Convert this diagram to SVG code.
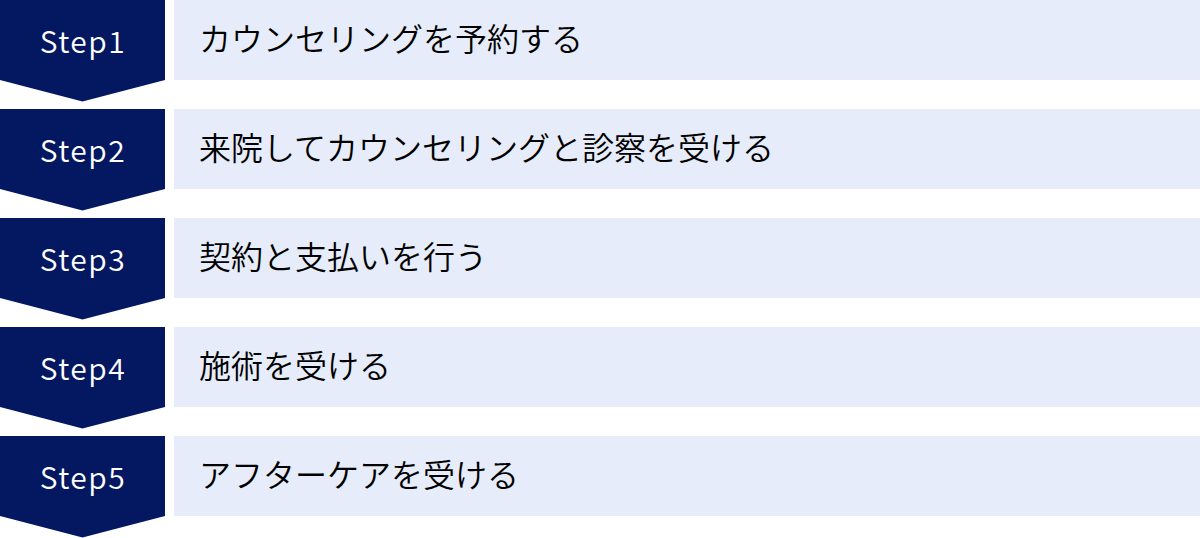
<svg xmlns="http://www.w3.org/2000/svg" width="1200" height="538" viewBox="0 0 1200 538">
<style>
.badge{fill:#041862}
.box{fill:#E6ECF9}
.step{font-family:"Noto Sans CJK JP","Noto Sans",sans-serif;font-size:30px;font-weight:350;fill:#FFFFFF;text-anchor:middle;letter-spacing:1.5px}
.label{font-family:"Noto Sans CJK JP",sans-serif;font-size:32px;font-weight:350;fill:#000000}
</style>
<defs>
<polygon id="chev" points="0,0 165,0 165,80 82.5,101.5 0,80"/>
</defs>
<g id="connectors"></g>
<g id="step1">
<use href="#chev" class="badge"/>
<rect class="box" x="174" y="0" width="1026" height="80"/>
<text class="step" x="83" y="53">Step1</text>
<text class="label" x="199" y="51">カウンセリングを予約する</text>
</g>
<g id="step2" transform="translate(0,109)">
<use href="#chev" class="badge"/>
<rect class="box" x="174" y="0" width="1026" height="80"/>
<text class="step" x="83" y="53">Step2</text>
<text class="label" x="199" y="51">来院してカウンセリングと診察を受ける</text>
</g>
<g id="step3" transform="translate(0,218)">
<use href="#chev" class="badge"/>
<rect class="box" x="174" y="0" width="1026" height="80"/>
<text class="step" x="83" y="53">Step3</text>
<text class="label" x="199" y="51">契約と支払いを行う</text>
</g>
<g id="step4" transform="translate(0,327)">
<use href="#chev" class="badge"/>
<rect class="box" x="174" y="0" width="1026" height="80"/>
<text class="step" x="83" y="53">Step4</text>
<text class="label" x="199" y="51">施術を受ける</text>
</g>
<g id="step5" transform="translate(0,436)">
<use href="#chev" class="badge"/>
<rect class="box" x="174" y="0" width="1026" height="80"/>
<text class="step" x="83" y="53">Step5</text>
<text class="label" x="199" y="51">アフターケアを受ける</text>
</g>
</svg>
